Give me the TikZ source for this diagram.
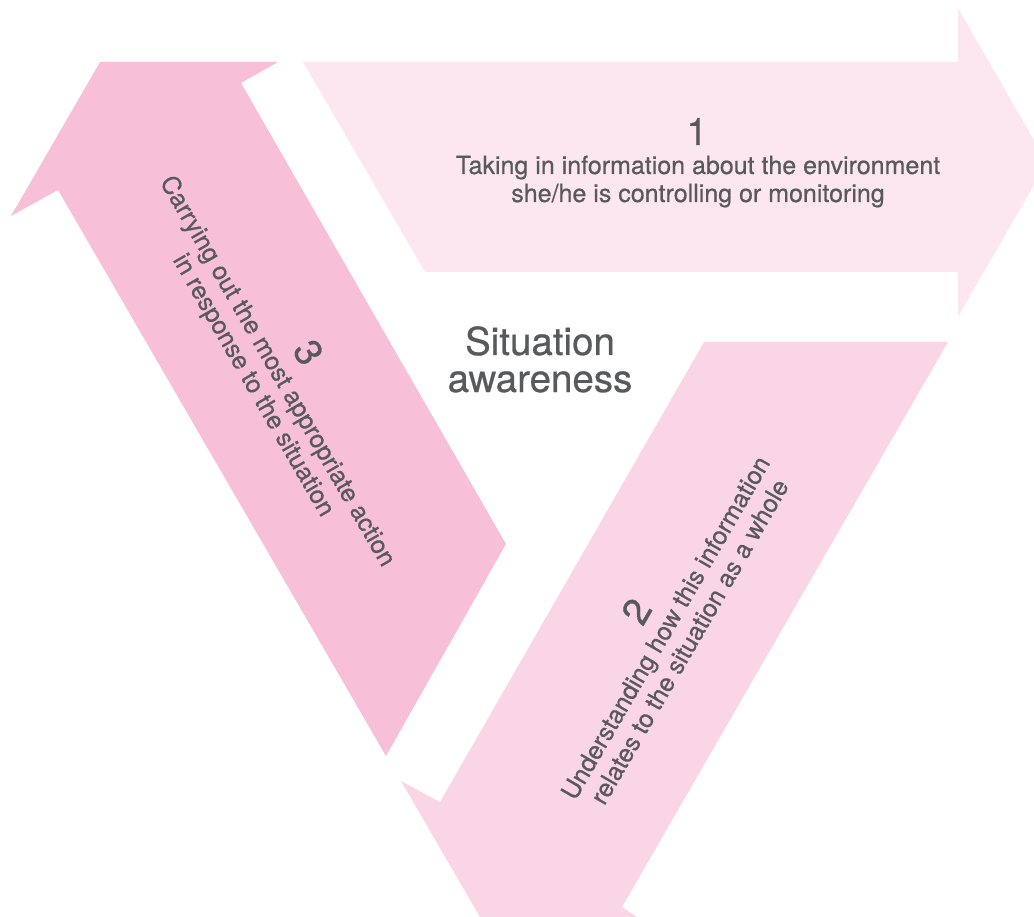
\documentclass[tikz,border=0pt]{standalone}
\usepackage{fontspec}
\setmainfont{TeX Gyre Heros}
\newfontfamily\labelfont{TeX Gyre Heros}[FakeBold=0.6]

\definecolor{pinkA}{RGB}{252,231,240}
\definecolor{pinkB}{RGB}{249,213,229}
\definecolor{pinkC}{RGB}{247,192,216}
\definecolor{textgray}{RGB}{88,89,91}

\tikzstyle{phase}=[text=textgray, inner sep=0pt, anchor=base, font=\labelfont\fontsize{25}{28}\selectfont]
\tikzstyle{phasenum}=[phase, font=\labelfont\fontsize{38}{40}\selectfont]
\tikzstyle{title}=[phase, font=\labelfont\fontsize{38.5}{40}\selectfont]

\begin{document}
\begin{tikzpicture}[x=1pt,y=-1pt]

\useasboundingbox (0,0) rectangle (1034,917);

% the three arrows, tips cut at the page edge
\fill[pinkA] (303,62) -- (958,62) -- (958,8) -- (1034,140) -- (1034,185)
  -- (958,317) -- (958,272) -- (425,272) -- cycle;
\fill[pinkB] (704,342) -- (948,342) -- (622,907) -- (637,917) -- (480,917)
  -- (401,781) -- (440,802) -- cycle;
\fill[pinkC] (100,62) -- (278,62) -- (241,83) -- (506,544) -- (386,756)
  -- (58,190) -- (11,216) -- cycle;

% 1
\node[phasenum] (num1) at (697,145) {1};
\node[phase] (text1a) at (698,174) {Taking in information about the environment};
\node[phase] (text1b) at (698,202) {she/he is controlling or monitoring};

% 2
\node[phasenum, rotate=60] (num2) at (648,618) {2};
\node[phase, rotate=60] (text2a) at (673,632) {Understanding how this information};
\node[phase, rotate=60] (text2b) at (697,646) {relates to the situation as a whole};

% 3
\node[phasenum, rotate=-60] (num3) at (297,359) {3};
\node[phase, rotate=-60] (text3a) at (271,375) {Carrying out the most appropriate action};
\node[phase, rotate=-60] (text3b) at (247,389) {in response to the situation};

\node[title] (sit) at (540,355) {Situation};
\node[title] (aware) at (540,392) {awareness};

\end{tikzpicture}
\end{document}
